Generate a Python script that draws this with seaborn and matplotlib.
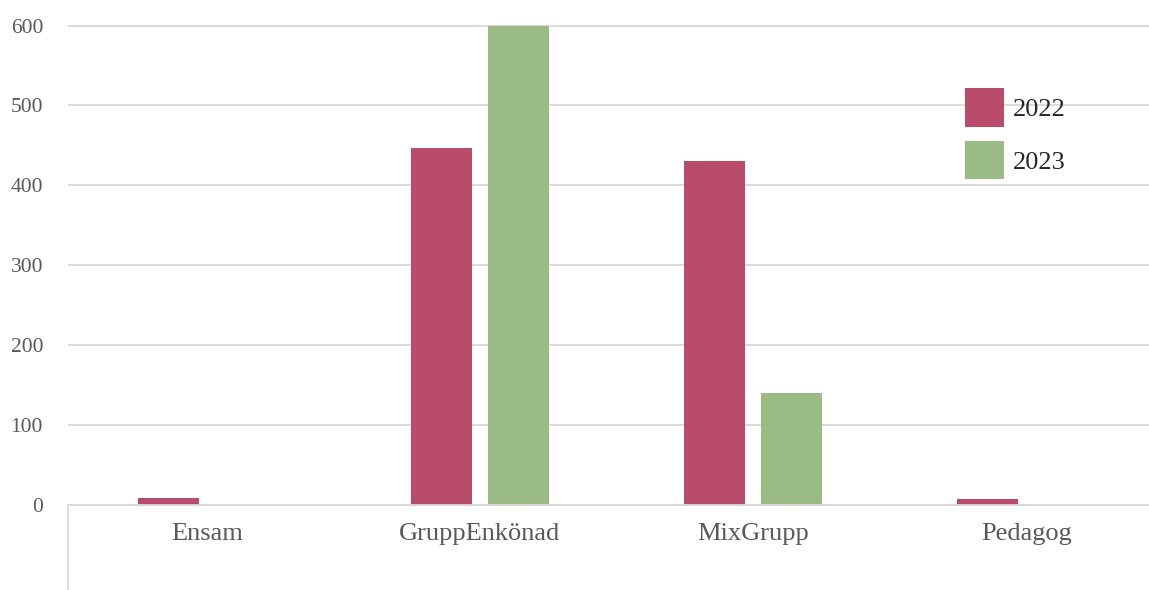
import matplotlib
matplotlib.use("Agg")
import matplotlib.pyplot as plt
import seaborn as sns
import pandas as pd
from matplotlib.patches import Patch

categories = ["Ensam", "GruppEnkönad", "MixGrupp", "Pedagog"]
years = ["2022", "2023"]
values_2022 = [8, 447, 430, 7]
values_2023 = [0, 600, 140, 0]
colors = ["#B84C6A", "#9BBB84"]

rows = []
for c, v in zip(categories, values_2022):
    rows.append({"Kategori": c, "År": "2022", "Antal": v})
for c, v in zip(categories, values_2023):
    rows.append({"Kategori": c, "År": "2023", "Antal": v})
df = pd.DataFrame(rows)

sns.set_theme(style="white")
plt.rcParams["font.family"] = ["Liberation Serif", "DejaVu Serif"]

fig = plt.figure(figsize=(11.49, 5.90), dpi=100)
ax = fig.add_axes([68 / 1149, 0.0, 1 - 68 / 1149, 570 / 590])

sns.barplot(data=df, x="Kategori", y="Antal", hue="År", order=categories,
            hue_order=years, palette=colors, width=0.565, gap=0.21,
            saturation=1, ax=ax, legend=False, edgecolor="none")

ax.set_ylim(-107, 607)
ax.set_xlim(-0.508, 3.45)
ax.set_yticks([0, 100, 200, 300, 400, 500, 600])
ax.yaxis.grid(True, color="#D9D9D9", linewidth=1.3)
ax.set_axisbelow(True)
ax.set_xlabel("")
ax.set_ylabel("")

for s in ["top", "right"]:
    ax.spines[s].set_visible(False)
ax.spines["bottom"].set_position(("data", 0))
ax.spines["bottom"].set_color("#D9D9D9")
ax.spines["bottom"].set_linewidth(1.3)
ax.spines["left"].set_bounds(-107, 0)
ax.spines["left"].set_color("#D9D9D9")
ax.spines["left"].set_linewidth(1.3)

ax.tick_params(axis="x", length=0, pad=13, labelsize=19, labelcolor="#595959")
ax.tick_params(axis="y", length=0, pad=18, labelsize=15.5, labelcolor="#595959")

handles = [Patch(facecolor=colors[0], edgecolor="none"),
           Patch(facecolor=colors[1], edgecolor="none")]
leg = ax.legend(handles, years, loc="upper left",
                bbox_to_anchor=((947 - 68) / (1149 - 68), (590 - 70) / 570),
                frameon=False, fontsize=19, handlelength=1.45, handleheight=1.85,
                labelspacing=0.55, handletextpad=0.35, borderpad=0.2)
for t in leg.get_texts():
    t.set_color("#262626")

fig.savefig("out.png", dpi=100)
